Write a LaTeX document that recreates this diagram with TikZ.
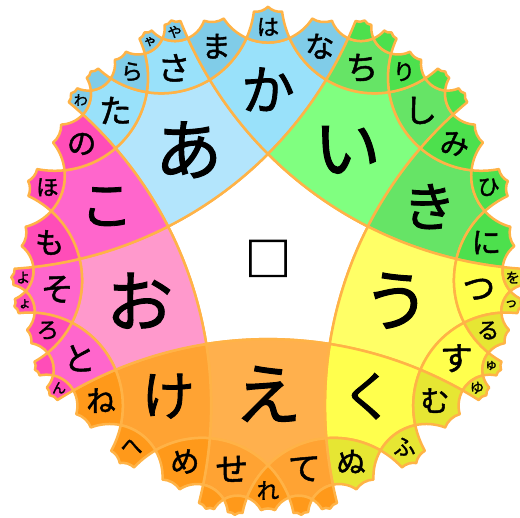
\documentclass[tikz,border=0pt]{standalone}
\usepackage{fontspec}
\newfontfamily\cjk[FakeBold=1.5]{Noto Sans CJK JP}
\definecolor{edgeC}{RGB}{255,179,71}
\definecolor{bE}{RGB}{179,229,252}
\definecolor{bV}{RGB}{153,225,250}
\definecolor{bD}{RGB}{128,204,232}
\definecolor{gE}{RGB}{128,255,128}
\definecolor{gV}{RGB}{102,228,102}
\definecolor{gD}{RGB}{77,224,77}
\definecolor{yE}{RGB}{255,255,102}
\definecolor{yV}{RGB}{255,255,77}
\definecolor{yD}{RGB}{230,230,51}
\definecolor{oE}{RGB}{255,176,77}
\definecolor{oV}{RGB}{255,163,51}
\definecolor{oD}{RGB}{255,153,26}
\definecolor{pE}{RGB}{255,153,204}
\definecolor{pV}{RGB}{255,102,204}
\definecolor{pD}{RGB}{255,77,184}
\tikzset{
  tilepath/.style={draw=edgeC,line width=2.5pt,line join=round},
  lbl/.style={inner sep=0pt,text=black}
}
\ExplSyntaxOn
\fp_const:Nn \c_hk_cot_fp { cotd(36) }
\fp_const:Nn \c_hk_e_fp { \c_hk_cot_fp + sqrt(\c_hk_cot_fp^2 - 1) }
\fp_const:Nn \c_hk_rho_fp { (\c_hk_e_fp - 1) / (\c_hk_e_fp + 1) }
\fp_const:Nn \c_hk_d_fp { (1 + \c_hk_rho_fp^2) / (2 * \c_hk_rho_fp * cosd(36)) }
\fp_const:Nn \c_hk_rsq_fp { \c_hk_d_fp^2 - 1 }
\fp_const:Nn \c_hk_R_fp { 264 }
\fp_const:Nn \c_hk_CX_fp { 268 }
\fp_const:Nn \c_hk_CY_fp { 259 }
\fp_const:Nn \c_hk_K_fp { 92 }
\fp_const:Nn \c_hk_gam_fp { 0.855 }
\fp_new:N \l_hk_x_fp
\fp_new:N \l_hk_y_fp
\fp_new:N \l_hk_dx_fp
\fp_new:N \l_hk_dy_fp
\fp_new:N \l_hk_k_fp
\fp_new:N \l_hk_ang_fp
\fp_new:N \l_hk_ax_fp
\fp_new:N \l_hk_ay_fp
\fp_new:N \l_hk_bx_fp
\fp_new:N \l_hk_by_fp
\fp_new:N \l_hk_D_fp
\fp_new:N \l_hk_na_fp
\fp_new:N \l_hk_nb_fp
\fp_new:N \l_hk_cx_fp
\fp_new:N \l_hk_cy_fp
\fp_new:N \l_hk_rr_fp
\fp_new:N \l_hk_ta_fp
\fp_new:N \l_hk_tb_fp
\fp_new:N \l_hk_del_fp
\fp_new:N \l_hk_px_fp
\fp_new:N \l_hk_py_fp
\fp_new:N \l_hk_qx_fp
\fp_new:N \l_hk_qy_fp
\fp_new:N \l_hk_cr_fp
\fp_new:N \l_hk_sa_fp
\fp_new:N \l_hk_sx_fp
\fp_new:N \l_hk_sy_fp
\fp_new:N \l_hk_gx_fp
\fp_new:N \l_hk_gy_fp
\int_new:N \l_hk_shift_int
\clist_new:N \l_hk_word_clist
\tl_new:N \l_hk_path_tl
\tl_new:N \l_hk_fs_tl
\tl_new:N \g_hk_labels_tl
\int_step_inline:nnn {0} {5}
 {
  \fp_new:c { l_hk_wx#1_fp }
  \fp_new:c { l_hk_wy#1_fp }
 }
\cs_new_protected:Npn \hk_refl:n #1
 {
  \fp_set:Nn \l_hk_ang_fp { 126 + 72 * ( #1 - \int_use:N \l_hk_shift_int ) }
  \fp_set:Nn \l_hk_dx_fp { \l_hk_x_fp - \c_hk_d_fp * cosd(\l_hk_ang_fp) }
  \fp_set:Nn \l_hk_dy_fp { \l_hk_y_fp - \c_hk_d_fp * sind(\l_hk_ang_fp) }
  \fp_set:Nn \l_hk_k_fp { \c_hk_rsq_fp / ( \l_hk_dx_fp^2 + \l_hk_dy_fp^2 ) }
  \fp_set:Nn \l_hk_x_fp { \c_hk_d_fp * cosd(\l_hk_ang_fp) + \l_hk_k_fp * \l_hk_dx_fp }
  \fp_set:Nn \l_hk_y_fp { \c_hk_d_fp * sind(\l_hk_ang_fp) + \l_hk_k_fp * \l_hk_dy_fp }
 }
\cs_new_protected:Npn \hk_point:nnn #1#2#3
 {
  \fp_set:Nn \l_hk_x_fp {#1}
  \fp_set:Nn \l_hk_y_fp {#2}
  \clist_set:Nn \l_hk_word_clist {#3}
  \clist_reverse:N \l_hk_word_clist
  \clist_map_inline:Nn \l_hk_word_clist { \hk_refl:n {##1} }
 }
\cs_new_protected:Npn \hk_acc:nn #1#2
 {
  \fp_set:Nn \l_hk_qx_fp {#1}
  \fp_set:Nn \l_hk_qy_fp {#2}
  \fp_set:Nn \l_hk_cr_fp { \l_hk_px_fp * \l_hk_qy_fp - \l_hk_qx_fp * \l_hk_py_fp }
  \fp_add:Nn \l_hk_sa_fp { \l_hk_cr_fp }
  \fp_add:Nn \l_hk_sx_fp { ( \l_hk_px_fp + \l_hk_qx_fp ) * \l_hk_cr_fp }
  \fp_add:Nn \l_hk_sy_fp { ( \l_hk_py_fp + \l_hk_qy_fp ) * \l_hk_cr_fp }
  \fp_set_eq:NN \l_hk_px_fp \l_hk_qx_fp
  \fp_set_eq:NN \l_hk_py_fp \l_hk_qy_fp
 }
\cs_new_protected:Npn \hk_edge:nn #1#2
 {
  \fp_set_eq:Nc \l_hk_ax_fp { l_hk_wx#1_fp }
  \fp_set_eq:Nc \l_hk_ay_fp { l_hk_wy#1_fp }
  \fp_set_eq:Nc \l_hk_bx_fp { l_hk_wx#2_fp }
  \fp_set_eq:Nc \l_hk_by_fp { l_hk_wy#2_fp }
  \fp_set:Nn \l_hk_D_fp { \l_hk_ax_fp * \l_hk_by_fp - \l_hk_ay_fp * \l_hk_bx_fp }
  \fp_compare:nNnTF { abs(\l_hk_D_fp) } < { 1e-7 }
   {
    \tl_put_right:Nx \l_hk_path_tl
     { -- ( \fp_eval:n { round( \c_hk_CX_fp + \c_hk_R_fp * \l_hk_bx_fp , 4) } pt ,
            \fp_eval:n { round( \c_hk_CY_fp + \c_hk_R_fp * \l_hk_by_fp , 4) } pt ) }
    \hk_acc:nn { \l_hk_bx_fp } { \l_hk_by_fp }
   }
   {
    \fp_set:Nn \l_hk_na_fp { ( \l_hk_ax_fp^2 + \l_hk_ay_fp^2 + 1 ) / 2 }
    \fp_set:Nn \l_hk_nb_fp { ( \l_hk_bx_fp^2 + \l_hk_by_fp^2 + 1 ) / 2 }
    \fp_set:Nn \l_hk_cx_fp { ( \l_hk_na_fp * \l_hk_by_fp - \l_hk_nb_fp * \l_hk_ay_fp ) / \l_hk_D_fp }
    \fp_set:Nn \l_hk_cy_fp { ( \l_hk_ax_fp * \l_hk_nb_fp - \l_hk_bx_fp * \l_hk_na_fp ) / \l_hk_D_fp }
    \fp_set:Nn \l_hk_rr_fp { sqrt( \l_hk_cx_fp^2 + \l_hk_cy_fp^2 - 1 ) }
    \fp_set:Nn \l_hk_ta_fp { atand( \l_hk_ay_fp - \l_hk_cy_fp , \l_hk_ax_fp - \l_hk_cx_fp ) }
    \fp_set:Nn \l_hk_tb_fp { atand( \l_hk_by_fp - \l_hk_cy_fp , \l_hk_bx_fp - \l_hk_cx_fp ) }
    \fp_set:Nn \l_hk_del_fp { \l_hk_tb_fp - \l_hk_ta_fp }
    \fp_set:Nn \l_hk_del_fp { \l_hk_del_fp - 360 * round( \l_hk_del_fp / 360 ) }
    \tl_put_right:Nx \l_hk_path_tl
     { arc [ start~angle = \fp_eval:n { round( \l_hk_ta_fp , 5 ) } ,
             delta~angle = \fp_eval:n { round( \l_hk_del_fp , 5 ) } ,
             radius = \fp_eval:n { round( \c_hk_R_fp * \l_hk_rr_fp , 4 ) } pt ] }
    \int_step_inline:nnn {1} {8}
     {
      \hk_acc:nn
       { \l_hk_cx_fp + \l_hk_rr_fp * cosd( \l_hk_ta_fp + \l_hk_del_fp * ##1 / 8 ) }
       { \l_hk_cy_fp + \l_hk_rr_fp * sind( \l_hk_ta_fp + \l_hk_del_fp * ##1 / 8 ) }
     }
   }
 }
\cs_new_protected:Npn \hk_draw:nn #1#2 { \path [tilepath, fill=#1] #2 ; }
\cs_generate_variant:Nn \hk_draw:nn { nV }
\cs_new_protected:Npn \hk_tile:nnnnn #1#2#3#4#5
 {
  \int_set:Nn \l_hk_shift_int {#1}
  \int_step_inline:nnn {0} {4}
   {
    \hk_point:nnn { \c_hk_rho_fp * cosd(90 + 72 * ##1) } { \c_hk_rho_fp * sind(90 + 72 * ##1) } {#2}
    \fp_set_eq:cN { l_hk_wx##1_fp } \l_hk_x_fp
    \fp_set_eq:cN { l_hk_wy##1_fp } \l_hk_y_fp
   }
  \fp_set_eq:cc { l_hk_wx5_fp } { l_hk_wx0_fp }
  \fp_set_eq:cc { l_hk_wy5_fp } { l_hk_wy0_fp }
  \fp_set_eq:Nc \l_hk_px_fp { l_hk_wx0_fp }
  \fp_set_eq:Nc \l_hk_py_fp { l_hk_wy0_fp }
  \fp_zero:N \l_hk_sa_fp
  \fp_zero:N \l_hk_sx_fp
  \fp_zero:N \l_hk_sy_fp
  \tl_set:Nx \l_hk_path_tl
   { ( \fp_eval:n { round( \c_hk_CX_fp + \c_hk_R_fp * \fp_use:c { l_hk_wx0_fp } , 4) } pt ,
       \fp_eval:n { round( \c_hk_CY_fp + \c_hk_R_fp * \fp_use:c { l_hk_wy0_fp } , 4) } pt ) }
  \int_step_inline:nnn {0} {4}
   { \hk_edge:nn {##1} { \int_eval:n { ##1 + 1 } } }
  \tl_put_right:Nn \l_hk_path_tl { -- cycle }
  \hk_draw:nV {#3} \l_hk_path_tl
  \tl_if_blank:nF {#4}
   {
    \fp_set:Nn \l_hk_gx_fp { \l_hk_sx_fp / ( 3 * \l_hk_sa_fp ) }
    \fp_set:Nn \l_hk_gy_fp { \l_hk_sy_fp / ( 3 * \l_hk_sa_fp ) }
    \hk_point:nnn {0} {0} {#2}
    \tl_set:Nx \l_hk_fs_tl
     { \fp_eval:n { round( \c_hk_K_fp * ( 1 - \l_hk_x_fp^2 - \l_hk_y_fp^2 ) ^ \c_hk_gam_fp , 2 ) } }
    \tl_gput_right:Nx \g_hk_labels_tl
     {
      \exp_not:N \node [lbl] (#5) ~ at ~
       ( \fp_eval:n { round( \c_hk_CX_fp + \c_hk_R_fp * \l_hk_gx_fp , 3 ) } pt ,
         \fp_eval:n { round( \c_hk_CY_fp + \c_hk_R_fp * \l_hk_gy_fp , 3 ) } pt )
       { \exp_not:N \fontsize { \l_hk_fs_tl pt } { \l_hk_fs_tl pt }
         \exp_not:N \selectfont \exp_not:N \cjk \exp_not:n {#4} } ;
     }
   }
 }
\NewDocumentCommand \hktile { m m m m m } { \hk_tile:nnnnn {#1} {#2} {#3} {#4} {#5} }
\NewDocumentCommand \hklabels { } { \tl_use:N \g_hk_labels_tl }
\ExplSyntaxOff
\begin{document}
\begin{tikzpicture}[x=1pt,y=1pt]
\useasboundingbox (0,0) rectangle (520,518);
\hktile{0}{}{white}{}{c0}
% blue group
\hktile{0}{0}{bE}{あ}{a}
\hktile{0}{0,4}{bV}{か}{ka}
\hktile{0}{0,2}{bV}{た}{ta}
\hktile{0}{0,3}{bV}{さ}{sa}
\hktile{0}{0,2,3}{bD}{ら}{ra}
\hktile{0}{0,4,3}{bD}{ま}{ma}
\hktile{0}{0,4,2}{bD}{は}{ha}
\hktile{0}{0,4,1}{bD}{な}{na}
\hktile{0}{0,2,0}{bD}{わ}{wa}
\hktile{0}{0,2,4}{bD}{}{b10}
\hktile{0}{0,3,1}{bD}{ゃ}{xya}
\hktile{0}{0,3,0}{bD}{や}{ya}
% green group
\hktile{1}{0}{gE}{い}{i}
\hktile{1}{0,4}{gV}{き}{ki}
\hktile{1}{0,2}{gV}{ち}{ti}
\hktile{1}{0,3}{gV}{し}{si}
\hktile{1}{0,2,3}{gD}{り}{ri}
\hktile{1}{0,4,3}{gD}{み}{mi}
\hktile{1}{0,4,2}{gD}{ひ}{hi}
\hktile{1}{0,4,1}{gD}{に}{ni}
\hktile{1}{0,2,0}{gD}{}{g9}
\hktile{1}{0,2,4}{gD}{}{g10}
\hktile{1}{0,3,1}{gD}{}{g11}
\hktile{1}{0,3,0}{gD}{}{g12}
% yellow group
\hktile{2}{0}{yE}{う}{u}
\hktile{2}{0,4}{yV}{く}{ku}
\hktile{2}{0,2}{yV}{つ}{tu}
\hktile{2}{0,3}{yV}{す}{su}
\hktile{2}{0,2,3}{yD}{る}{ru}
\hktile{2}{0,4,3}{yD}{む}{mu}
\hktile{2}{0,4,2}{yD}{ふ}{hu}
\hktile{2}{0,4,1}{yD}{ぬ}{nu}
\hktile{2}{0,2,0}{yD}{を}{wo}
\hktile{2}{0,2,4}{yD}{っ}{xtu}
\hktile{2}{0,3,1}{yD}{ゅ}{xyu}
\hktile{2}{0,3,0}{yD}{ゆ}{yu}
% orange group
\hktile{3}{0}{oE}{え}{e}
\hktile{3}{0,4}{oV}{け}{ke}
\hktile{3}{0,2}{oV}{て}{te}
\hktile{3}{0,3}{oV}{せ}{se}
\hktile{3}{0,2,3}{oD}{れ}{re}
\hktile{3}{0,4,3}{oD}{め}{me}
\hktile{3}{0,4,2}{oD}{へ}{he}
\hktile{3}{0,4,1}{oD}{ね}{ne}
\hktile{3}{0,2,0}{oD}{}{o9}
\hktile{3}{0,2,4}{oD}{}{o10}
\hktile{3}{0,3,1}{oD}{}{o11}
\hktile{3}{0,3,0}{oD}{}{o12}
% pink group
\hktile{4}{0}{pE}{お}{o}
\hktile{4}{0,4}{pV}{こ}{ko}
\hktile{4}{0,2}{pV}{と}{to}
\hktile{4}{0,3}{pV}{そ}{so}
\hktile{4}{0,2,3}{pD}{ろ}{ro}
\hktile{4}{0,4,3}{pD}{も}{mo}
\hktile{4}{0,4,2}{pD}{ほ}{ho}
\hktile{4}{0,4,1}{pD}{の}{no}
\hktile{4}{0,2,0}{pD}{ん}{n}
\hktile{4}{0,2,4}{pD}{}{p10}
\hktile{4}{0,3,1}{pD}{ょ}{xyo}
\hktile{4}{0,3,0}{pD}{よ}{yo}
\hklabels
\node[lbl] (sq) at (268,259.5) {\fontsize{46pt}{46pt}\selectfont\cjk □};
\end{tikzpicture}
\end{document}
